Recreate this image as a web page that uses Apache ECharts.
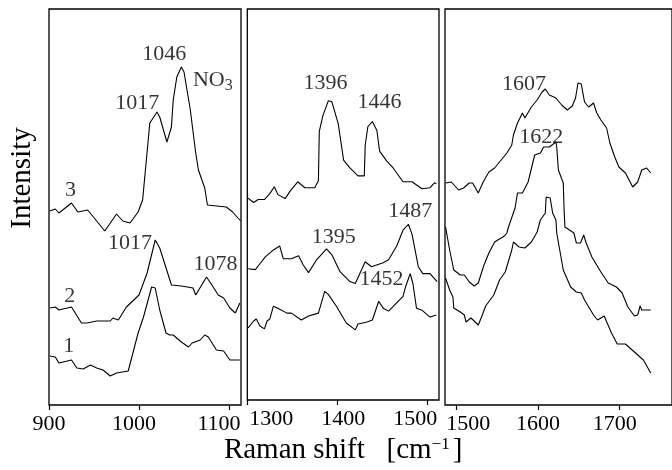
<!DOCTYPE html>
<html>
<head>
<meta charset="utf-8">
<script src="https://cdn.jsdelivr.net/npm/echarts@6/dist/echarts.min.js"></script>
<style>
  html, body { margin: 0; padding: 0; background: #fff; }
  #chart { width: 672px; height: 470px; }
</style>
</head>
<body>
<div id="chart"></div>
<script>
// Raman spectra, three windows; intensity in arbitrary units (curves offset)
const p1Ticks = [900, 1000, 1100];
const p2Ticks = [1300, 1400, 1500];
const p3Ticks = [1500, 1600, 1700];

// panel 1: 900-1113 cm-1
const p1Curve1 = [[901, 49], [907, 48], [911, 42], [925, 45], [931, 37], [938, 36], [946, 40], [953, 37], [960, 35],
  [968, 29], [975, 32], [988, 34], [999, 72], [1005, 88], [1014, 118], [1018, 117], [1023, 95], [1030, 72],
  [1034, 70], [1038, 70], [1047, 63], [1055, 58], [1059, 62], [1068, 65], [1073, 70], [1077, 68], [1086, 55],
  [1094, 54], [1101, 45], [1112, 45]];
const p1Curve2 = [[901, 97], [907, 98], [911, 95], [925, 98], [936, 82], [942, 82], [953, 84], [968, 84], [971, 87],
  [977, 85], [986, 98], [1000, 110], [1009, 132], [1018, 165], [1023, 157], [1029, 140], [1036, 120], [1047, 119],
  [1060, 117], [1063, 110], [1075, 128], [1081, 120], [1088, 110], [1094, 107], [1101, 97], [1107, 92], [1112, 102]];
const p1Curve3 = [[901, 194], [907, 196], [911, 192], [925, 202], [932, 193], [943, 195], [962, 174], [975, 191],
  [982, 184], [990, 182], [999, 193], [1004, 205], [1012, 282], [1020, 293], [1023, 288], [1031, 263], [1036, 278],
  [1038, 305], [1042, 328], [1047, 338], [1050, 333], [1057, 295], [1063, 252], [1066, 235], [1073, 217],
  [1076, 200], [1097, 198], [1104, 193], [1113, 184]];

// panel 2: 1300-1513 cm-1
const p2Curve1 = [[1301, 73], [1307, 80], [1310, 82], [1314, 75], [1319, 72], [1322, 80], [1325, 82], [1329, 95],
  [1334, 93], [1344, 88], [1349, 88], [1360, 81], [1368, 85], [1379, 88], [1386, 110], [1390, 107], [1399, 95],
  [1410, 78], [1420, 71], [1423, 77], [1433, 79], [1439, 81], [1446, 100], [1451, 93], [1457, 90], [1473, 105],
  [1476, 115], [1481, 128], [1484, 118], [1488, 93], [1494, 91], [1503, 84], [1510, 86]];
const p2Curve2 = [[1301, 133], [1309, 132], [1314, 138], [1320, 145], [1329, 152], [1336, 156], [1340, 143],
  [1349, 143], [1357, 146], [1362, 137], [1368, 129], [1377, 142], [1388, 153], [1394, 147], [1403, 130],
  [1414, 120], [1420, 118], [1431, 140], [1438, 135], [1451, 139], [1457, 142], [1466, 156], [1473, 172],
  [1479, 178], [1483, 168], [1490, 135], [1495, 128], [1503, 128], [1509, 122], [1511, 120]];
const p2Curve3 = [[1300, 205], [1307, 200], [1312, 203], [1319, 203], [1325, 209], [1330, 216], [1334, 208],
  [1342, 204], [1348, 212], [1356, 221], [1364, 215], [1375, 215], [1379, 222], [1380, 272], [1384, 288],
  [1390, 303], [1394, 302], [1401, 280], [1407, 243], [1414, 235], [1423, 227], [1430, 227], [1431, 258],
  [1434, 277], [1439, 282], [1444, 273], [1447, 252], [1455, 242], [1462, 235], [1473, 221], [1483, 221],
  [1494, 214], [1503, 215], [1508, 220], [1510, 219]];

// panel 3: 1486-1764 cm-1
const p3Curve1 = [[1487, 127], [1492, 115], [1496, 108], [1497, 97], [1505, 93], [1510, 90], [1512, 83], [1518, 87],
  [1522, 84], [1527, 80], [1531, 88], [1536, 99], [1546, 110], [1553, 125], [1560, 133], [1568, 155], [1570, 163],
  [1577, 158], [1584, 157], [1592, 163], [1599, 173], [1603, 185], [1609, 192], [1610, 208], [1615, 207],
  [1618, 192], [1622, 185], [1623, 172], [1631, 135], [1640, 118], [1647, 113], [1653, 112], [1657, 105],
  [1668, 90], [1673, 85], [1681, 89], [1683, 88], [1690, 72], [1697, 61], [1707, 61], [1718, 53], [1729, 45],
  [1738, 32]];
const p3Curve2 = [[1487, 178], [1492, 155], [1497, 135], [1505, 130], [1510, 130], [1516, 123], [1522, 119],
  [1527, 122], [1534, 140], [1540, 152], [1547, 163], [1559, 169], [1562, 172], [1564, 178], [1572, 197],
  [1575, 212], [1581, 212], [1588, 223], [1596, 250], [1603, 252], [1607, 258], [1614, 258], [1622, 263],
  [1623, 258], [1625, 235], [1631, 222], [1632, 195], [1633, 178], [1644, 172], [1647, 162], [1652, 162],
  [1656, 170], [1659, 162], [1666, 148], [1677, 133], [1686, 122], [1696, 118], [1703, 112], [1710, 98],
  [1718, 89], [1722, 90], [1725, 99], [1727, 95], [1738, 95]];
const p3Curve3 = [[1487, 222], [1494, 223], [1503, 215], [1509, 217], [1516, 222], [1520, 222], [1527, 212],
  [1533, 223], [1540, 233], [1547, 237], [1555, 245], [1562, 252], [1568, 260], [1570, 270], [1575, 282],
  [1581, 292], [1584, 287], [1592, 298], [1599, 305], [1605, 313], [1609, 316], [1614, 310], [1622, 307],
  [1629, 300], [1636, 295], [1642, 299], [1646, 307], [1649, 322], [1653, 321], [1657, 303], [1662, 298],
  [1668, 302], [1672, 292], [1677, 285], [1684, 277], [1688, 262], [1694, 248], [1699, 238], [1707, 232],
  [1716, 218], [1722, 223], [1727, 235], [1733, 237], [1738, 232]];

// peak / curve labels: [text, x, y]
const p1Notes = [['3', 924, 215], ['1017', 998, 302], ['1046', 1028, 351], ['NO3', 1082, 325],
  ['2', 923, 109], ['1017', 990, 162], ['1078', 1085, 141], ['1', 922, 59]];
const p2Notes = [['1396', 1387, 321], ['1446', 1447, 302], ['1487', 1481, 191], ['1395', 1396, 165],
  ['1452', 1449, 122]];
const p3Notes = [['1607', 1583, 321], ['1622', 1604, 268]];

const FONT = 'Liberation Serif, Times New Roman, serif';
const chart = echarts.init(document.getElementById('chart'));

// tick labels are nudged sideways in the original so they don't collide
const labelShift = {
  0: { 900: 0, 1000: -5, 1100: -10 },
  1: { 1300: 24, 1400: 6, 1500: -12 },
  2: { 1500: 12, 1600: 0, 1700: -5 },
};

const panels = [
  { left: 49, width: 192, min: 900, max: 1113.3, ticks: p1Ticks, curves: [p1Curve1, p1Curve2, p1Curve3], notes: p1Notes },
  { left: 247.3, width: 191.7, min: 1300, max: 1513, ticks: p2Ticks, curves: [p2Curve1, p2Curve2, p2Curve3], notes: p2Notes },
  { left: 445, width: 250, min: 1486.3, max: 1764, ticks: p3Ticks, curves: [p3Curve1, p3Curve2, p3Curve3], notes: p3Notes },
];

const grid = [];
const xAxis = [];
const yAxis = [];
const series = [];

panels.forEach((p, i) => {
  grid.push({
    left: p.left, top: 9, width: p.width, height: 396,
    show: true, borderColor: '#000', borderWidth: 1.3, backgroundColor: 'transparent',
  });
  const shifts = labelShift[i];
  const rich = {};
  p.ticks.forEach((t) => {
    const d = shifts[t] || 0;
    rich['t' + t] = {
      fontSize: 22, fontFamily: FONT, color: '#000',
      padding: d > 0 ? [0, 0, 0, 2 * d] : [0, -2 * d, 0, 0],
    };
  });
  xAxis.push({
    type: 'value', gridIndex: i, min: p.min, max: p.max,
    splitLine: { show: false },
    axisLine: { show: false },
    axisTick: { show: true, inside: false, length: 5, customValues: p.ticks, lineStyle: { color: '#000', width: 1.2 } },
    axisLabel: {
      show: true, customValues: p.ticks, margin: 8,
      formatter: (v) => `{t${v}|${v}}`, rich,
    },
    name: i === 1 ? '{t|Raman shift   [cm}{s|−1}{t|]}' : '',
    nameLocation: 'middle', nameGap: 36,
    nameTextStyle: {
      rich: {
        t: { fontSize: 29, fontFamily: FONT, color: '#000' },
        s: { fontSize: 17, fontFamily: FONT, color: '#000', verticalAlign: 'top', padding: [0, 3, 12, 0] },
      },
    },
  });
  yAxis.push({ type: 'value', gridIndex: i, min: 0, max: 396, show: false });

  p.curves.forEach((c) => {
    series.push({
      type: 'line', xAxisIndex: i, yAxisIndex: i, data: c,
      symbol: 'none', clip: true,
      lineStyle: { color: '#000', width: 1.1 },
    });
  });

  series.push({
    type: 'scatter', xAxisIndex: i, yAxisIndex: i,
    symbolSize: 1, itemStyle: { color: 'rgba(0,0,0,0)' },
    data: p.notes.map((n) => ({ name: n[0], value: [n[1], n[2]] })),
    label: {
      show: true, position: 'inside', color: '#000', fontSize: 22, fontFamily: FONT,
      textBorderWidth: 0,
      formatter: (prm) => (prm.name === 'NO3' ? '{a|NO}{b|3}' : prm.name),
      rich: {
        a: { fontSize: 22, fontFamily: FONT, color: '#000', textBorderWidth: 0 },
        b: { fontSize: 16, fontFamily: FONT, color: '#000', textBorderWidth: 0, verticalAlign: 'bottom', padding: [12, 0, 0, 0] },
      },
    },
    emphasis: { disabled: true },
    z: 5,
  });
});

chart.setOption({
  animation: false,
  backgroundColor: '#fff',
  grid, xAxis, yAxis, series,
  graphic: [{
    type: 'text', x: 22, y: 178, rotation: Math.PI / 2,
    style: { text: 'Intensity', font: `29px ${FONT}`, fill: '#000', align: 'center', verticalAlign: 'middle' },
  }],
});
</script>
</body>
</html>
